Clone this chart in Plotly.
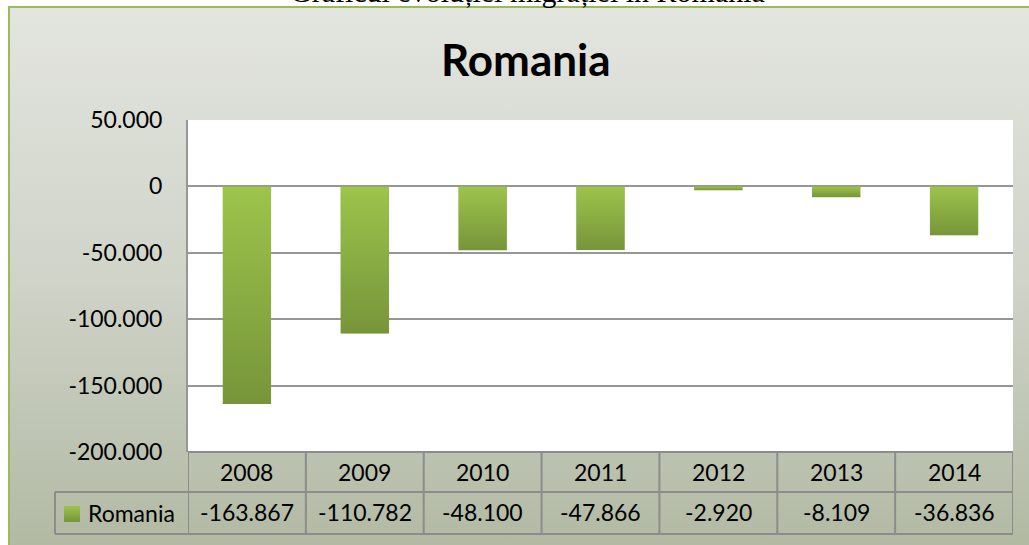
import base64
import plotly.graph_objects as go

categories = ["2008", "2009", "2010", "2011", "2012", "2013", "2014"]
values = [-163867, -110782, -48100, -47866, -2920, -8109, -36836]
series_name = "Romania"
title_text = "Romania"
caption_text = "Graficul evoluției migrației în România"
y_ticks = [50000, 0, -50000, -100000, -150000, -200000]


def fmt(v):
    return f"{v:,}".replace(",", ".")


y_ticktext = [fmt(v) for v in y_ticks]

W, H = 1029, 545
L, R, T, B = 188, 1013, 120, 452
pw, ph = R - L, B - T


def px_x(p):
    return (p - L) / pw


def px_y(p):
    return (B - p) / ph


FONT = "Lato"
GRID = "#969696"
BAR = "#8AAE43"
BAR_W = 0.41


def grad_svg(top, bottom, mid=None):
    stops = f'<stop offset="0" stop-color="{top}"/>'
    if mid:
        stops += f'<stop offset="0.5" stop-color="{mid}"/>'
    stops += f'<stop offset="1" stop-color="{bottom}"/>'
    s = ('<svg xmlns="http://www.w3.org/2000/svg" width="100" height="100" viewBox="0 0 100 100" '
         'preserveAspectRatio="none"><defs><linearGradient id="g" x1="0" y1="0" x2="0" y2="1">'
         + stops + '</linearGradient></defs><rect width="100" height="100" fill="url(#g)"/></svg>')
    return "data:image/svg+xml;base64," + base64.b64encode(s.encode()).decode()


bg_src = grad_svg("#E3E5DF", "#B0B8A1", "#CFD3C8")
bar_src = grad_svg("#9DC44B", "#76953A")

fig = go.Figure()
fig.add_trace(go.Bar(x=categories, y=values, name=series_name, width=BAR_W,
                     marker=dict(color=BAR, line=dict(width=0)), showlegend=False))

box_l, box_t, box_r, box_b = 9, 7, 1045, 560

shapes = [
    dict(type="rect", xref="paper", yref="paper", x0=px_x(box_l), x1=px_x(box_r), y0=px_y(box_t), y1=px_y(box_b),
         line=dict(color="#9BBB59", width=2), fillcolor="rgba(0,0,0,0)", layer="below"),
    dict(type="rect", xref="paper", yref="paper", x0=0, x1=1, y0=0, y1=1,
         line=dict(width=0), fillcolor="white", layer="below"),
]

row_top, row_mid, row_bot = px_y(452), px_y(492), px_y(534)
leg_left = px_x(55)
line = dict(color="#8C8C8C", width=2)
shapes.append(dict(type="line", xref="paper", yref="paper", x0=0, x1=1, y0=row_top, y1=row_top, line=line))
shapes.append(dict(type="line", xref="paper", yref="paper", x0=leg_left, x1=1, y0=row_mid, y1=row_mid, line=line))
shapes.append(dict(type="line", xref="paper", yref="paper", x0=leg_left, x1=1, y0=row_bot, y1=row_bot, line=line))
shapes.append(dict(type="line", xref="paper", yref="paper", x0=leg_left, x1=leg_left, y0=row_mid, y1=row_bot, line=line))
n = len(categories)
for i in range(n + 1):
    xv = i - 0.5
    shapes.append(dict(type="line", xref="x", yref="paper", x0=xv, x1=xv, y0=row_top, y1=row_bot, line=line))

images = [dict(source=bg_src, xref="paper", yref="paper", x=px_x(box_l), y=px_y(box_t),
               sizex=px_x(box_r) - px_x(box_l), sizey=px_y(box_t) - px_y(box_b),
               xanchor="left", yanchor="top", sizing="stretch", layer="below")]
# gradient overlay for each bar, placed from the data through the axes
for i, v in enumerate(values):
    images.append(dict(source=bar_src, xref="x", yref="y", x=i - BAR_W / 2, y=0, sizex=BAR_W, sizey=-v,
                       xanchor="left", yanchor="top", sizing="stretch", layer="above"))
# legend key
images.append(dict(source=bar_src, xref="paper", yref="paper", x=px_x(64), y=px_y(506),
                   sizex=px_x(80) - px_x(64), sizey=px_y(506) - px_y(522),
                   xanchor="left", yanchor="top", sizing="stretch", layer="above"))

annotations = [
    dict(text=f"<b>{title_text}</b>", xref="paper", yref="paper", x=px_x(526), y=px_y(59),
         xanchor="center", yanchor="middle", showarrow=False, font=dict(family=FONT, size=44, color="black")),
    dict(text=caption_text, xref="paper", yref="paper", x=px_x(527), y=px_y(9.5),
         xanchor="center", yanchor="bottom", showarrow=False,
         font=dict(family="Liberation Serif", size=30, color="black")),
    dict(text=series_name, xref="paper", yref="paper", x=px_x(86), y=px_y(513),
         xanchor="left", yanchor="middle", showarrow=False, font=dict(family=FONT, size=23, color="black")),
]
for i, (c, v) in enumerate(zip(categories, values)):
    annotations.append(dict(text=c, xref="x", yref="paper", x=i, y=px_y(472), xanchor="center", yanchor="middle",
                            showarrow=False, font=dict(family=FONT, size=23, color="black")))
    annotations.append(dict(text=fmt(v), xref="x", yref="paper", x=i, y=px_y(512), xanchor="center",
                            yanchor="middle", showarrow=False, font=dict(family=FONT, size=23, color="black")))

fig.update_layout(
    width=W, height=H,
    margin=dict(l=L, r=W - R, t=T, b=H - B, pad=0),
    paper_bgcolor="white", plot_bgcolor="rgba(0,0,0,0)",
    shapes=shapes, annotations=annotations, images=images,
    xaxis=dict(type="category", range=[-0.5, n - 0.5], showticklabels=False, showgrid=False, zeroline=False,
               showline=False, ticks=""),
    yaxis=dict(range=[-200000, 50000], tickvals=y_ticks, ticktext=y_ticktext, showgrid=True, gridcolor=GRID,
               gridwidth=2, zeroline=True, zerolinecolor=GRID, zerolinewidth=2, showline=True, linecolor=GRID,
               linewidth=2, ticks="", ticklabelstandoff=19, tickfont=dict(family=FONT, size=23, color="black")),
    font=dict(family=FONT),
)

fig.write_html("out.html", config={"displayModeBar": False},
               post_script="document.body.style.margin='0';document.body.style.padding='0';")
